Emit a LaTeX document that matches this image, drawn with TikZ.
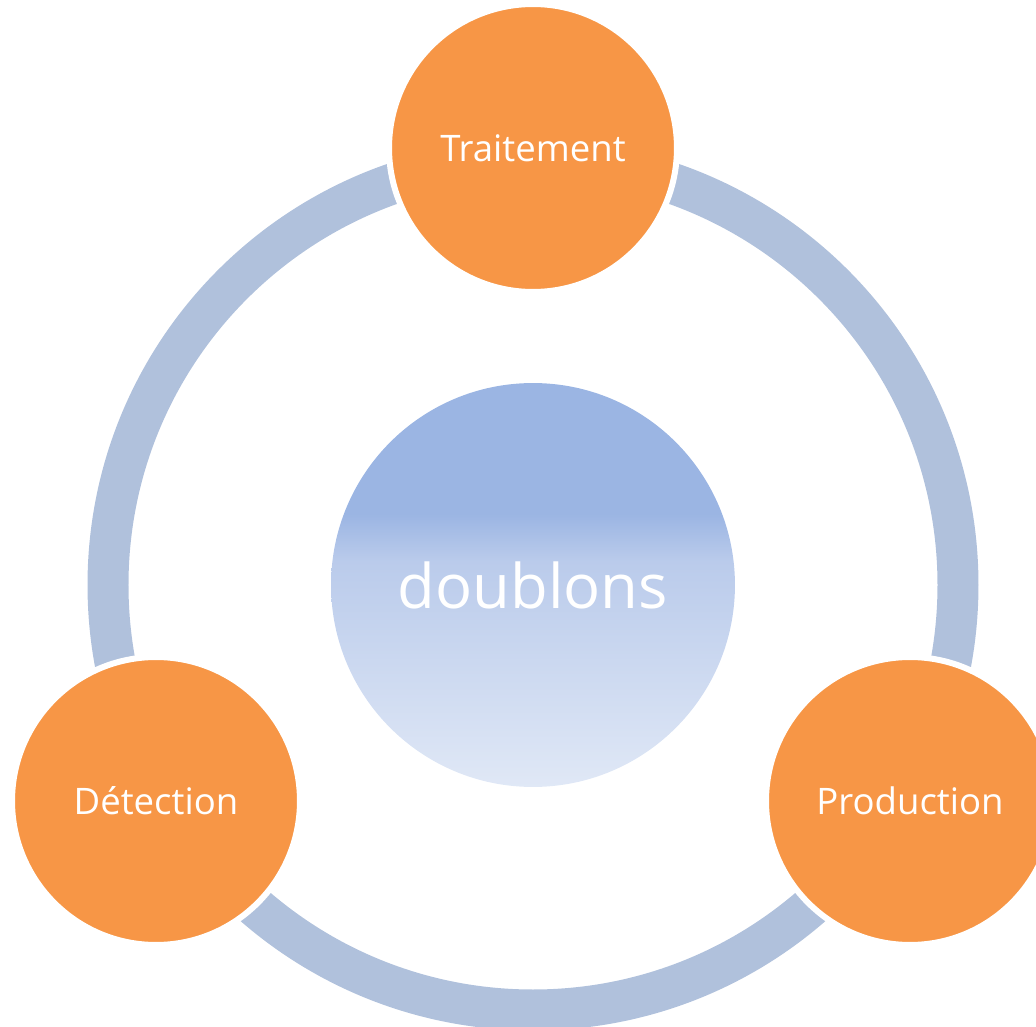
\documentclass[tikz,border=0pt]{standalone}
\usepackage{fontspec}
\setmainfont{Open Sans}
\definecolor{stageorange}{HTML}{F79646}
\definecolor{ringblue}{HTML}{B0C1DC}
\definecolor{fadetop}{HTML}{9BB5E3}
\definecolor{fademid}{HTML}{BACBEB}
\definecolor{fadelow}{HTML}{E0E8F6}
\pgfdeclareverticalshading{doublonsfade}{100bp}{color(0bp)=(fadelow); color(25bp)=(fadelow); color(53bp)=(fademid); color(58.8bp)=(fadetop); color(100bp)=(fadetop)}
\begin{document}
\begin{tikzpicture}[x=0.02cm, y=-0.02cm,
                stage/.style={circle, fill=stageorange, draw=white, line width=0.12cm, minimum size=5.76cm, inner sep=0pt, text=white, font=\fontsize{20.8}{25}\selectfont},
                core/.style={circle, shading=doublonsfade, minimum size=8.08cm, inner sep=0pt, text=white, font=\fontsize{35}{42}\selectfont}]

                \useasboundingbox (0,0) rectangle (1036,1027);

                % cycle ring behind the stages
                \coordinate (hub) at (533,585);
                \draw[ringblue, line width=0.82cm] (hub) circle[radius=425];

                \node[stage] (traitement) at (533,148) {Traitement};
                \node[stage] (detection) at (156,801) {Détection};
                \node[stage] (production) at (910,801) {Production};

                \node[core] (doublons) at (hub) {doublons};
            \end{tikzpicture}
\end{document}
